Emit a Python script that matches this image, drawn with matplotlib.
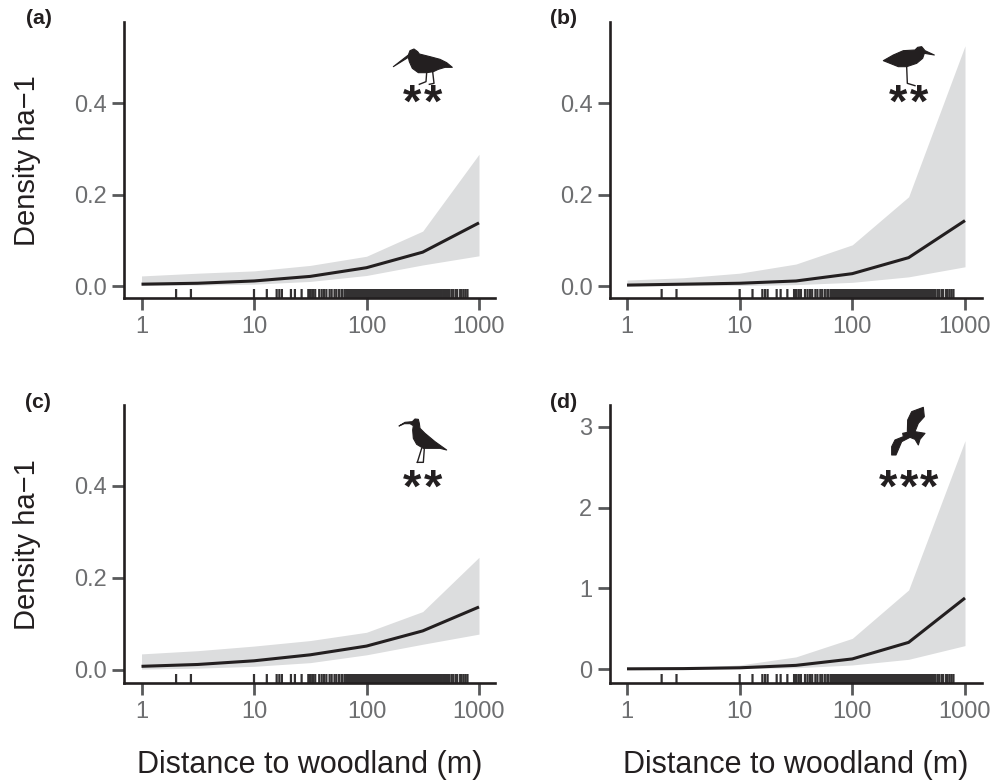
import matplotlib
matplotlib.use("Agg")
import matplotlib.pyplot as plt
from matplotlib.patches import Polygon

plt.rcParams['font.family'] = ['Liberation Sans', 'DejaVu Sans']

W, H = 993, 781

dist = [1, 3.16, 10, 31.6, 100, 316, 1000]

# fitted density, upper and lower limits for each panel
line_a = [0.004, 0.006, 0.011, 0.021, 0.040, 0.074, 0.138]
upper_a = [0.022, 0.028, 0.033, 0.045, 0.065, 0.120, 0.288]
lower_a = [0.001, 0.002, 0.004, 0.010, 0.023, 0.046, 0.066]

line_b = [0.002, 0.004, 0.006, 0.011, 0.027, 0.062, 0.143]
upper_b = [0.013, 0.018, 0.028, 0.048, 0.090, 0.195, 0.525]
lower_b = [0.000, 0.001, 0.001, 0.003, 0.008, 0.020, 0.042]

line_c = [0.008, 0.012, 0.020, 0.033, 0.052, 0.085, 0.137]
upper_c = [0.035, 0.042, 0.052, 0.064, 0.082, 0.127, 0.245]
lower_c = [0.002, 0.004, 0.008, 0.016, 0.033, 0.056, 0.078]

line_d = [0.002, 0.005, 0.015, 0.045, 0.125, 0.33, 0.88]
upper_d = [0.006, 0.015, 0.05, 0.15, 0.38, 0.98, 2.83]
lower_d = [0.0, 0.001, 0.005, 0.015, 0.05, 0.12, 0.29]

# rug of survey distances, same in all panels
rug = [2.03, 2.75, 10, 13, 15.9, 16.8, 17.7, 21.3, 23.1, 26.5,
       30.4, 31, 32, 33.5, 35, 38, 40, 42, 44, 47, 49, 52, 54, 57, 60, 61, 64, 66, 68, 70,
       71, 73, 74, 76, 77, 79, 80, 82, 84, 85, 87, 89, 91, 93, 95, 97, 99, 101, 103, 105,
       107, 110, 112, 114, 117, 119, 122, 124, 127, 130, 133, 136, 139, 142, 145, 148, 151,
       154, 158, 161, 165, 168, 172, 176, 180, 184, 188, 192, 196, 200, 205, 209, 214, 219,
       224, 229, 234, 239, 244, 250, 255, 261, 267, 273, 279, 285, 292, 298, 305, 312, 319,
       326, 333, 340, 348, 356, 364, 372, 380, 389, 398, 407, 416, 425, 435, 445, 455, 466,
       480, 495, 510, 530, 545, 570, 590, 620, 640, 680, 700, 730, 760, 790]

x_ticks = [1, 10, 100, 1000]
x_ticklabels = ['1', '10', '100', '1000']
yticks_abc = [0.0, 0.2, 0.4]
yticks_d = [0, 1, 2, 3]

DARK = '#231f20'
TICK = '#58595b'
LABEL = '#6d6e70'
BAND = '#dcddde'

fig = plt.figure(figsize=(W / 100, H / 100), dpi=100)


def panel(left, right, top, bottom, x1, x1000, y0, yscale, line, upper, lower, yticks, fmt):
    ax = fig.add_axes([left / W, 1 - bottom / H, (right - left) / W, (bottom - top) / H])
    dec = (x1000 - x1) / 3
    ax.set_xscale('log')
    ax.set_xlim(10 ** ((left - x1) / dec), 10 ** ((right - x1) / dec))
    ax.set_ylim((y0 - bottom) / yscale, (y0 - top) / yscale)
    ax.fill_between(dist, lower, upper, color=BAND, lw=0)
    ax.plot(dist, line, color=DARK, lw=2.2, solid_capstyle='butt')
    r = ax.vlines(rug, 0, 9 / (bottom - top), transform=ax.get_xaxis_transform(), color='#333132', lw=1.6)
    r.set_snap(False)
    ax.spines['top'].set_visible(False)
    ax.spines['right'].set_visible(False)
    ax.spines['left'].set_linewidth(1.9)
    ax.spines['bottom'].set_linewidth(1.9)
    ax.spines['left'].set_color(DARK)
    ax.spines['bottom'].set_color(DARK)
    ax.set_xticks(x_ticks)
    ax.set_xticklabels(x_ticklabels)
    ax.minorticks_off()
    ax.set_yticks(yticks)
    ax.set_yticklabels([fmt % v for v in yticks])
    ax.tick_params(length=8.6, width=2, color=TICK, labelcolor=LABEL, labelsize=17, pad=4)
    return ax


panel(124, 495, 22, 298, 141.5, 479, 286, 457.5, line_a, upper_a, lower_a, yticks_abc, '%.1f')
panel(610, 982, 22, 298, 627, 965, 286, 457.5, line_b, upper_b, lower_b, yticks_abc, '%.1f')
panel(124, 495, 405, 683, 141.5, 479, 670, 460, line_c, upper_c, lower_c, yticks_abc, '%.1f')
panel(610, 982, 405, 683, 627, 965, 669, 80.67, line_d, upper_d, lower_d, yticks_d, '%d')

# overlay in pixel coordinates for icons and outer labels
over = fig.add_axes([0, 0, 1, 1], facecolor='none')
over.set_xlim(0, W)
over.set_ylim(H, 0)
over.axis('off')

for lab, x, y in [('(a)', 26, 19), ('(b)', 550, 19), ('(c)', 25, 403), ('(d)', 550, 403)]:
    over.text(x, y, lab, fontsize=15.3, fontweight='bold', color=DARK, va='center')

for y in [161, 545]:
    over.text(27, y, 'Density ha\u22121', rotation=90, fontsize=21, color=DARK, ha='center', va='center')
for x in [310, 796]:
    over.text(x, 765, 'Distance to woodland (m)', fontsize=22, color=DARK, ha='center', va='center')


def bird(ox, oy, body, legs):
    pts = [(ox + px / 3, oy + py / 3) for px, py in body]
    over.add_patch(Polygon(pts, closed=True, fc=DARK, ec=DARK, lw=0.8, joinstyle='round'))
    for leg in legs:
        over.plot([ox + p[0] / 3 for p in leg], [oy + p[1] / 3 for p in leg], color=DARK, lw=1.0)


bird(380, 30,
     [(40, 110), (85, 75), (90, 62), (102, 57), (113, 65), (118, 72), (150, 80), (180, 88), (200, 98),
      (217, 112), (195, 112), (175, 118), (160, 125), (140, 128), (115, 128), (97, 115), (88, 95), (85, 82)],
     [[(140, 128), (138, 155), (118, 163)], [(158, 125), (162, 160), (148, 163)]])
bird(870, 30,
     [(40, 92), (70, 75), (100, 62), (135, 60), (143, 52), (155, 50), (165, 62), (193, 75), (163, 70),
      (158, 85), (140, 100), (110, 110), (85, 110), (65, 102)],
     [[(110, 110), (112, 160), (135, 167)]])
bird(385, 405,
     [(42, 63), (60, 52), (82, 50), (90, 42), (100, 43), (103, 55), (105, 70), (120, 85), (150, 110),
      (185, 135), (165, 130), (140, 130), (115, 130), (95, 118), (85, 100), (83, 75), (85, 62), (75, 56), (58, 56)],
     [[(118, 130), (115, 172), (97, 172)], [(110, 130), (97, 172)]])
bird(860, 400,
     [(190, 22), (193, 50), (175, 70), (165, 95), (195, 100), (180, 118), (175, 135), (165, 118), (150, 112),
      (125, 125), (108, 165), (95, 165), (95, 140), (105, 120), (130, 110), (128, 100), (142, 97), (143, 60), (155, 35)],
     [])

stars = [(411.7, 117), (433, 117), (898, 117), (919, 117), (411.7, 502), (432.7, 502), (888, 502), (909, 502), (929, 502)]
for x, y in stars:
    over.text(x, y, '*', fontsize=34, fontweight='bold', color=DARK, ha='center', va='baseline')

fig.savefig('out.png', dpi=100)
